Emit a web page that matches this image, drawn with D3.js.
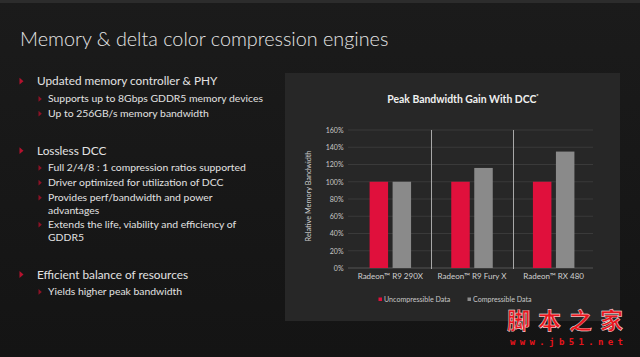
<!DOCTYPE html>
<html><head><meta charset="utf-8">
<script src="https://cdn.jsdelivr.net/npm/d3@7"></script>
<style>
html,body{margin:0;padding:0;background:#171717;}
svg{display:block;}
</style></head>
<body>
<svg id="c" width="640" height="357"></svg>
<script>
// ---- data ----
const categories = ["Radeon\u2122 R9 290X", "Radeon\u2122 R9 Fury X", "Radeon\u2122 RX 480"];
const seriesNames = ["Uncompressible Data", "Compressible Data"];
const uncompressible = [100, 100, 100];
const compressible = [100, 116, 135];
const yTicks = [0, 20, 40, 60, 80, 100, 120, 140, 160];
const chartTitle = "Peak Bandwidth Gain With DCC";
const yAxisTitle = "Relative Memory Bandwidth";
const slideTitle = "Memory & delta color compression engines";
const bullets = [
  {lvl:1, text:"Updated memory controller & PHY", y:81},
  {lvl:2, text:"Supports up to 8Gbps GDDR5 memory devices", y:98.5},
  {lvl:2, text:"Up to 256GB/s memory bandwidth", y:113.3},
  {lvl:1, text:"Lossless DCC", y:150.5},
  {lvl:2, text:"Full 2/4/8 : 1 compression ratios supported", y:167.5},
  {lvl:2, text:"Driver optimized for utilization of DCC", y:182.3},
  {lvl:2, text:"Provides perf/bandwidth and power", y:197.3},
  {lvl:0, text:"advantages", y:210},
  {lvl:2, text:"Extends the life, viability and efficiency of", y:224.3},
  {lvl:0, text:"GDDR5", y:237.7},
  {lvl:1, text:"Efficient balance of resources", y:274.3},
  {lvl:2, text:"Yields higher peak bandwidth", y:291.5}
];

const svg = d3.select("#c");
const FONT = "Lato, 'Open Sans', sans-serif";

// background
const defs = svg.append("defs");
const bg = defs.append("linearGradient").attr("id","bg").attr("x1",0).attr("y1",0).attr("x2",0).attr("y2",1);
bg.append("stop").attr("offset","0%").attr("stop-color","#1b1b1b");
bg.append("stop").attr("offset","100%").attr("stop-color","#141414");
svg.append("rect").attr("width",640).attr("height",357).attr("fill","url(#bg)");
svg.append("rect").attr("width",640).attr("height",3).attr("fill","#2c2c2c");

// slide title
svg.append("text").attr("x",20).attr("y",45.5)
  .attr("font-family",FONT).attr("font-weight",300).attr("font-size",19.8)
  .attr("fill","#e6e6e6").text(slideTitle);

// bullets
const bg2 = svg.append("g").attr("font-family",FONT).attr("fill","#e2e2e2");
bullets.forEach(b => {
  const tx = b.lvl === 1 ? 37 : 48;
  const fs = b.lvl === 1 ? 11.8 : 10.4;
  bg2.append("text").attr("x",tx).attr("y",b.y).attr("dy","0.36em")
    .attr("font-size",fs).text(b.text);
  if (b.lvl === 1) {
    bg2.append("path").attr("d",`M${19.5},${b.y-3.2} L${23.5},${b.y+0.3} L${19.5},${b.y+3.6} Z`).attr("fill","#b3122e");
  } else if (b.lvl === 2) {
    bg2.append("path").attr("d",`M${38.5},${b.y-2.6} L${41.8},${b.y+0.4} L${38.5},${b.y+3.2} Z`).attr("fill","#8e1226");
  }
});

// chart panel
svg.append("rect").attr("x",285).attr("y",73).attr("width",335).attr("height",248).attr("fill","#272727");

// chart title
const tt = svg.append("text").attr("x",463).attr("y",102.8).attr("text-anchor","middle")
  .attr("font-family",FONT).attr("font-weight",700).attr("font-size",10.4).attr("fill","#f0f0f0");
tt.append("tspan").text(chartTitle);
tt.append("tspan").attr("dy",-4.5).attr("font-size",5.5).text("*");

// scales
const x = d3.scaleBand().domain(categories).range([349.5, 594.5]).paddingInner(0).paddingOuter(0);
const y = d3.scaleLinear().domain([0,160]).range([268,130]);
const color = d3.scaleOrdinal().domain(seriesNames).range(["#e0103c","#8a8a8a"]);

// grid lines
svg.append("g").selectAll("line").data(yTicks).join("line")
  .attr("x1",348).attr("x2",593).attr("y1",d=>y(d)).attr("y2",d=>y(d))
  .attr("stroke",d=>d===0?"#555":"#3a3a3a").attr("stroke-width",1);

// y axis
const yAxis = d3.axisLeft(y).tickValues(yTicks).tickSize(0).tickPadding(0).tickFormat(d=>d+"%");
const ya = svg.append("g").attr("transform","translate(343.5,0)").call(yAxis);
ya.select(".domain").remove();
ya.selectAll("text").attr("font-family",FONT).attr("font-size",7).attr("fill","#c8c8c8");

// dividers
svg.append("g").selectAll("line").data(categories.slice(1)).join("line")
  .attr("x1",d=>Math.round(x(d))+0.5).attr("x2",d=>Math.round(x(d))+0.5)
  .attr("y1",y(160)).attr("y2",y(0)+1)
  .attr("stroke","#a8a8a8").attr("stroke-width",1);

// bars
const table = categories.map((c,i)=>({cat:c, vals:[
  {s:seriesNames[0], v:uncompressible[i]},
  {s:seriesNames[1], v:compressible[i]}]}));
const inner = d3.scaleBand().domain(seriesNames).range([-20.75,20.75]).paddingInner(0.196).paddingOuter(0);
const groups = svg.append("g").selectAll("g").data(table).join("g")
  .attr("transform",d=>`translate(${x(d.cat)+x.bandwidth()/2},0)`);
groups.selectAll("rect").data(d=>d.vals).join("rect")
  .attr("x",d=>inner(d.s)).attr("width",inner.bandwidth())
  .attr("y",d=>y(d.v)).attr("height",d=>y(0)-y(d.v))
  .attr("fill",d=>color(d.s));

// x axis labels
const xAxis = d3.axisBottom(x).tickSize(0).tickPadding(0);
const xa = svg.append("g").attr("transform","translate(0,273.5)").call(xAxis);
xa.select(".domain").remove();
xa.selectAll("text").attr("font-family",FONT).attr("font-size",8).attr("fill","#d0d0d0");

// y axis title
svg.append("text").attr("transform","translate(310.5,196) rotate(-90)").attr("text-anchor","middle")
  .attr("font-family",FONT).attr("font-size",7.3).attr("fill","#d0d0d0").text(yAxisTitle);

// legend
const legX = [378.5, 467.5];
const leg = svg.append("g").selectAll("g").data(seriesNames).join("g")
  .attr("transform",(d,i)=>`translate(${legX[i]},299)`);
leg.append("rect").attr("x",0).attr("y",-1.5).attr("width",3.5).attr("height",3.5).attr("fill",d=>color(d));
leg.append("text").attr("x",5.5).attr("dy","0.35em").attr("font-family",FONT).attr("font-size",7.1)
  .attr("fill","#c8c8c8").text(d=>d);

// watermark
svg.append("text").attr("x",507).attr("y",329).attr("font-family","'Noto Sans CJK SC', sans-serif")
  .attr("font-size",23).attr("font-weight",700).attr("fill","#e8141c")
  .attr("stroke","#ffffff").attr("stroke-width",0.4).attr("textLength",116).attr("lengthAdjust","spacing")
  .text("脚本之家");
svg.append("text").attr("x",510).attr("y",345).attr("font-family","'DejaVu Sans Mono', monospace")
  .attr("font-size",9).attr("font-weight",700).attr("fill","#e8141c")
  .attr("textLength",113).attr("lengthAdjust","spacing")
  .text("www.jb51.net");
</script>
</body></html>
